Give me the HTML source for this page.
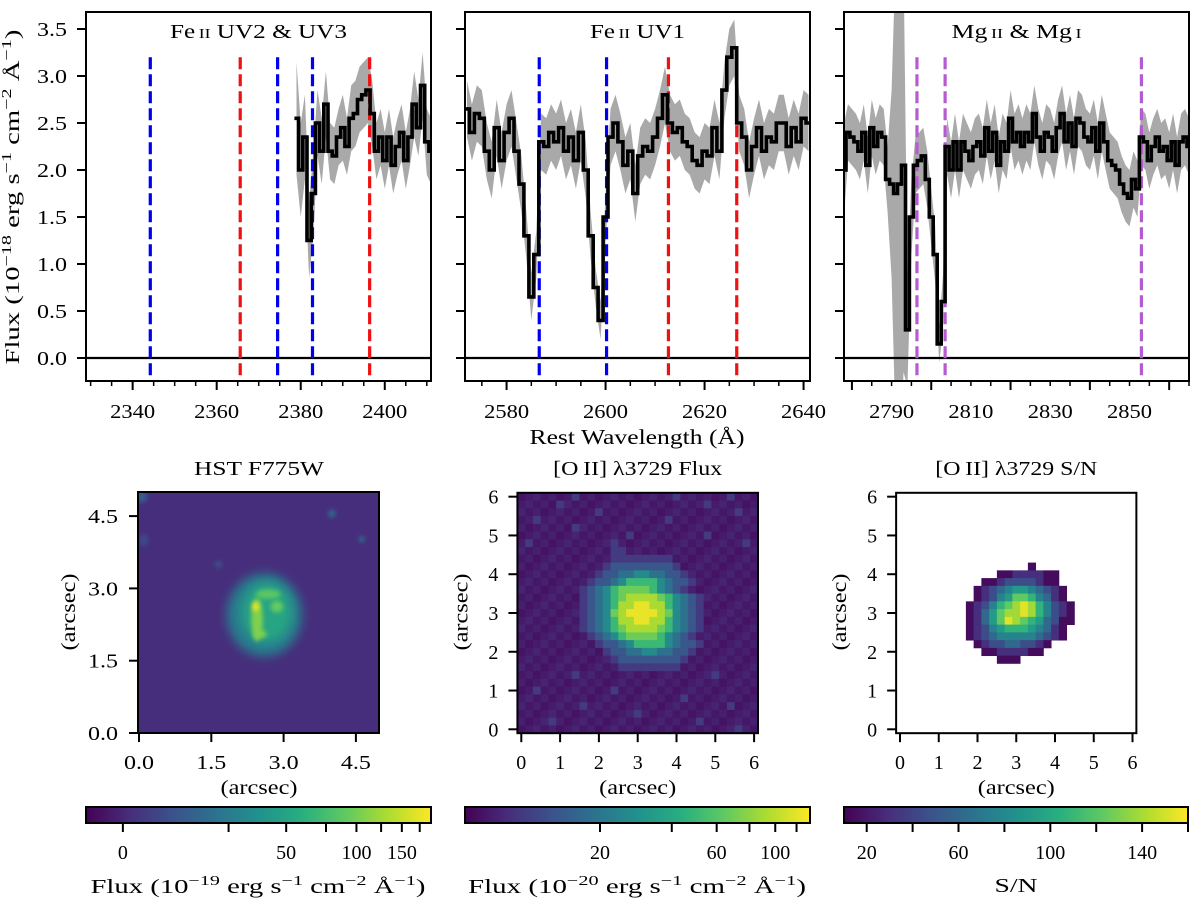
<!DOCTYPE html>
<html><head><meta charset="utf-8">
<style>
html,body{margin:0;padding:0;background:#fff;}
svg{display:block;font-family:"Liberation Serif",serif;}
</style></head>
<body>
<svg id="fig" width="1200" height="906" viewBox="0 0 1200 906" xmlns="http://www.w3.org/2000/svg">
<defs>
<filter id="blur2" x="-50%" y="-50%" width="200%" height="200%"><feGaussianBlur stdDeviation="2.2"/></filter>
<filter id="blur4" x="-50%" y="-50%" width="200%" height="200%"><feGaussianBlur stdDeviation="5"/></filter>
<linearGradient id="viridisGrad" x1="0" x2="1" y1="0" y2="0">
<stop offset="0" stop-color="#440154"/><stop offset="0.125" stop-color="#472d7b"/><stop offset="0.25" stop-color="#3b528b"/><stop offset="0.375" stop-color="#2c728e"/><stop offset="0.5" stop-color="#21918c"/><stop offset="0.625" stop-color="#28ae80"/><stop offset="0.75" stop-color="#5ec962"/><stop offset="0.875" stop-color="#addc30"/><stop offset="1" stop-color="#fde725"/>
</linearGradient>
</defs>
</svg>
<script>
// ---------- spectral data ----------
const spec1Start = 2379;
const spec1Flux = [2.55,2.0,2.35,1.25,1.75,2.5,2.2,2.7,2.2,2.15,2.35,2.45,2.25,2.55,2.6,2.75,2.8,2.85,2.6,2.2,2.35,2.1,2.35,2.05,2.25,2.4,2.1,2.35,2.7,2.45,2.9,2.3,2.2];
const spec1Err = [0.6,0.5,0.45,0.4,0.45,0.35,0.35,0.35,0.3,0.3,0.3,0.35,0.3,0.35,0.35,0.35,0.35,0.35,0.35,0.3,0.3,0.3,0.3,0.3,0.3,0.3,0.3,0.3,0.35,0.3,0.35,0.35,0.35];
const spec2Start = 2572;
const spec2Flux = [2.65,2.4,2.6,2.55,2.2,2.0,2.45,2.1,2.4,2.55,2.2,1.85,1.3,0.65,1.1,2.3,2.25,2.4,2.3,2.45,2.2,2.35,2.1,2.4,2.0,1.3,0.75,0.4,1.5,2.35,2.5,2.3,2.05,2.2,1.75,2.15,2.25,2.2,2.35,2.55,2.8,2.5,2.4,2.45,2.3,2.25,2.1,2.05,2.2,2.15,2.45,2.2,2.85,3.2,3.3,2.5,2.35,2.0,2.25,2.45,2.2,2.35,2.3,2.5,2.5,2.25,2.45,2.3,2.55,2.5];
const spec2Err = [0.3,0.3,0.3,0.3,0.3,0.3,0.3,0.3,0.3,0.3,0.3,0.3,0.25,0.25,0.25,0.3,0.3,0.3,0.3,0.3,0.3,0.3,0.3,0.3,0.3,0.25,0.2,0.2,0.25,0.3,0.3,0.3,0.3,0.3,0.3,0.3,0.3,0.3,0.3,0.3,0.3,0.3,0.3,0.3,0.3,0.3,0.3,0.3,0.3,0.3,0.3,0.3,0.3,0.3,0.3,0.3,0.3,0.3,0.3,0.3,0.3,0.3,0.3,0.3,0.3,0.3,0.3,0.3,0.3,0.3];
const spec3Start = 2778;
const spec3Flux = [2.0,2.4,2.35,2.3,2.2,2.4,2.05,2.45,2.25,2.4,2.35,1.9,1.85,1.75,1.85,2.05,0.3,1.5,2.05,2.1,2.15,1.9,1.5,1.1,0.15,0.6,2.25,2.0,2.3,2.0,2.3,2.2,2.1,2.25,2.3,2.15,2.45,2.2,2.4,2.05,2.3,2.2,2.55,2.3,2.4,2.25,2.4,2.3,2.6,2.35,2.2,2.4,2.35,2.2,2.45,2.6,2.3,2.5,2.25,2.55,2.5,2.35,2.3,2.45,2.2,2.5,2.3,2.1,2.05,2.0,1.85,1.75,1.7,1.9,1.8,2.35,2.3,2.1,2.25,2.35,2.2,2.25,2.1,2.3,2.05,2.3,2.35,2.25];
const spec3Err = [0.5,0.3,0.3,0.3,0.3,0.3,0.3,0.3,0.3,0.3,0.3,0.35,1.0,2.5,3.2,2.2,0.6,0.4,0.3,0.3,0.3,0.3,0.3,0.3,0.2,0.3,0.3,0.3,0.3,0.3,0.3,0.3,0.3,0.3,0.3,0.3,0.3,0.3,0.3,0.3,0.3,0.3,0.3,0.3,0.3,0.3,0.3,0.3,0.3,0.3,0.3,0.3,0.3,0.3,0.3,0.3,0.3,0.3,0.3,0.3,0.3,0.3,0.3,0.3,0.3,0.3,0.3,0.3,0.3,0.3,0.3,0.3,0.3,0.3,0.3,0.3,0.3,0.3,0.3,0.3,0.3,0.3,0.3,0.3,0.3,0.3,0.3,0.3];
const lines1 = [2344.2,2365.6,2374.5,2382.8,2396.4];
const lineColors1 = ["#0000ee","#ee1111","#0000ee","#0000ee","#ee1111"];
const lines2 = [2586.6,2600.2,2612.7,2626.5];
const lineColors2 = ["#0000ee","#0000ee","#ee1111","#ee1111"];
const lines3 = [2796.4,2803.5,2853.0];
const lineColors3 = ["#b55bd2","#b55bd2","#b55bd2"];
const xTicks1 = [2340,2360,2380,2400];
const xTicks2 = [2580,2600,2620,2640];
const xTicks3 = [2790,2810,2830,2850];
const yTicks = [0.0,0.5,1.0,1.5,2.0,2.5,3.0,3.5];
const yTickLabels = ["0.0","0.5","1.0","1.5","2.0","2.5","3.0","3.5"];

// ---------- image data ----------
const fluxMap = [
"0000000100000000000010000001000",
"0000010000000000000000001000000",
"0000000000100000000000000000100",
"0010000000000000000100000000000",
"0000000100000000000000000000000",
"0000000000000010000000001000000",
"0100000000001000000000000000010",
"0000000000001100000000000000000",
"0000000000001111111100000000000",
"0000000000012222222210000000000",
"0000000000122334433221000000000",
"0000000001223466664322100000000",
"0000000012346777764321000000000",
"0000000012346788887643210000000",
"0000000012346889988643210000000",
"0000000012347899998743210000000",
"0000000012346889988643210000000",
"0000000012346788887643210000000",
"0000000001234677776432100000000",
"0000000000122346666432210000000",
"0000000000012233443322100000000",
"0000000000001222222221000000000",
"0000000000000111111110000000000",
"0000000100000000000000000100000",
"0000000000000000000000000000000",
"0010000000001000000000000000000",
"0000000000000000000001000000000",
"0000000010000000000000000001000",
"0000000000000001000000000000000",
"0000100000000000000000010000000",
"0000000000000000000000000000100"];
const snMap = [
"...............................",
"...............................",
"...............................",
"...............................",
"...............................",
"...............................",
"...............................",
"...............................",
"...............................",
".................0.............",
".............00111100..........",
"...........0012222100..........",
"..........012345543210.........",
"..........012457764310.........",
".........01246789864210........",
".........01357889864210........",
".........01357987653200........",
".........0124566654310.........",
".........0123444443210.........",
"..........0122332210...........",
"...........00111100............",
".............000...............",
"...............................",
"...............................",
"...............................",
"...............................",
"...............................",
"...............................",
"...............................",
"...............................",
"..............................."];
// HST sources: x, y (arcsec), rx, ry (arcsec), colour level (0-1)
const hstX = [2.6,2.65,2.45,2.68,2.86,2.42,2.52,4.0,4.62,1.65,0.05,0.1];
const hstY = [2.45,2.5,2.35,2.88,2.62,2.62,2.05,4.55,4.02,3.5,4.9,4.0];
const hstRx = [0.78,0.52,0.12,0.26,0.13,0.07,0.13,0.08,0.06,0.07,0.12,0.1];
const hstRy = [0.86,0.62,0.45,0.1,0.12,0.1,0.08,0.08,0.06,0.07,0.12,0.12];
const hstLevel = [0.42,0.58,0.8,0.74,0.76,0.97,0.8,0.35,0.38,0.26,0.3,0.22];
const hstTicks = [0.0,1.5,3.0,4.5];
const hstTickLabels = ["0.0","1.5","3.0","4.5"];
const arcTicks = [0,1,2,3,4,5,6];
const cb1Ticks = [0,25,50,75,100,125,150,175];
const cb1Labels = ["0","","50","","100","","150",""];
const cb2Ticks = [20,40,60,80,100,120];
const cb2Labels = ["20","","60","","100",""];
const cb3Ticks = [20,40,60,80,100,120,140,160];
const cb3Labels = ["20","","60","","100","","140",""];

const NS = "http://www.w3.org/2000/svg";
const svg = document.getElementById('fig');
const TF = 20; // tick font size
function mk(tag, attrs, parent){
  const e = document.createElementNS(NS, tag);
  for (const k in attrs) e.setAttribute(k, attrs[k]);
  (parent||svg).appendChild(e);
  return e;
}
const VIR = ["#440154","#472d7b","#3b528b","#2c728e","#21918c","#28ae80","#5ec962","#addc30","#fde725"];
function hex2rgb(h){return [parseInt(h.substr(1,2),16),parseInt(h.substr(3,2),16),parseInt(h.substr(5,2),16)];}
function viridis(t){
  t=Math.max(0,Math.min(1,t)); const s=t*8; const i=Math.min(7,Math.floor(s)); const f=s-i;
  const a=hex2rgb(VIR[i]), b=hex2rgb(VIR[i+1]);
  return "rgb("+a.map((v,k)=>Math.round(v+(b[k]-v)*f)).join(",")+")";
}
function addText(str, x, y, size, anchor, parent, name, len){
  const t = mk('text',{x:x,y:y,'font-size':size,'text-anchor':anchor||'middle',fill:'#000'},parent);
  if (len) { t.setAttribute('textLength', len); t.setAttribute('lengthAdjust','spacingAndGlyphs'); }
  t.textContent = str;
  
  
  return t;
}
function fluxLabel(parent, x, y, exp, name, rotate, len){
  const t = mk('text',{x:x,y:y,'font-size':20,'text-anchor':'middle',fill:'#000',textLength:len,lengthAdjust:'spacingAndGlyphs'},parent);
  if (rotate) t.setAttribute('transform','rotate(-90 '+x+' '+y+')');
  
  
  const parts = [["Flux (10",0],[exp,1],[" erg s",0],["\u22121",1],[" cm",0],["\u22122",1],[" \u00c5",0],["\u22121",1],[")",0]];
  parts.forEach((p,i)=>{
    const s = mk('tspan',{},t);
    s.textContent = p[0];
    if (p[1]) { s.setAttribute('font-size','14'); s.setAttribute('dy','-8'); }
    else if (i>0) s.setAttribute('dy','8');
  });
  return t;
}

// ---------- spectral panels ----------
const Y0 = 358, YS = 94, TOP = 12, BOT = 381;
function yv(v){ return Y0 - YS*v; }
const panels = [
 {x0:86,x1:431,wmin:2328.9,wmax:2411,start:spec1Start,flux:spec1Flux,err:spec1Err,lines:lines1,cols:lineColors1,ticks:xTicks1,title:["Fe","II"," UV2 & UV3"],tlen:177,labels:true,name:'feii-uv2-uv3-panel'},
 {x0:465,x1:810,wmin:2571.6,wmax:2641.3,start:spec2Start,flux:spec2Flux,err:spec2Err,lines:lines2,cols:lineColors2,ticks:xTicks2,title:["Fe","II"," UV1"],tlen:95,labels:false,name:'feii-uv1-panel'},
 {x0:844,x1:1189,wmin:2778,wmax:2865,start:spec3Start,flux:spec3Flux,err:spec3Err,lines:lines3,cols:lineColors3,ticks:xTicks3,title:["Mg","II"," & Mg","I"],tlen:130,labels:false,name:'mgii-mgi-panel'}
];
panels.forEach((p,pi)=>{
  const g = mk('g',{});
  
  
  const xs = w => p.x0 + (w - p.wmin)/(p.wmax - p.wmin)*(p.x1 - p.x0);
  const cp = mk('clipPath',{id:'clipS'+pi},g);
  mk('rect',{x:p.x0,y:TOP,width:p.x1-p.x0,height:BOT-TOP},cp);
  const inner = mk('g',{'clip-path':'url(#clipS'+pi+')'},g);
  let up=[], dn=[];
  p.flux.forEach((f,i)=>{ const w=p.start+i; up.push(xs(w).toFixed(1)+","+yv(f+p.err[i]).toFixed(1)); dn.unshift(xs(w).toFixed(1)+","+yv(f-p.err[i]).toFixed(1)); });
  const band = mk('polygon',{points:up.concat(dn).join(' '),fill:'#a9a9a9',stroke:'none'},inner);
  
  
  const zl = mk('line',{x1:p.x0,x2:p.x1,y1:yv(0),y2:yv(0),stroke:'#000','stroke-width':2.2},inner);
  
  
  p.lines.forEach((w,i)=>{
    const l = mk('line',{x1:xs(w),x2:xs(w),y1:yv(3.2),y2:BOT,stroke:p.cols[i],'stroke-width':3.2,'stroke-dasharray':'12,5'},inner);
    
    
  });
  let d = "";
  p.flux.forEach((f,i)=>{ const w=p.start+i; const xa=xs(w-0.5), xb=xs(w+0.5), y=yv(f);
    d += (i===0? "M":"L")+xa.toFixed(1)+","+y.toFixed(1)+" L"+xb.toFixed(1)+","+y.toFixed(1)+" "; });
  const sp = mk('path',{d:d,fill:'none',stroke:'#000','stroke-width':3.6,'stroke-linejoin':'miter'},inner);
  
  
  const fr = mk('rect',{x:p.x0,y:TOP,width:p.x1-p.x0,height:BOT-TOP,fill:'none',stroke:'#000','stroke-width':2},g);
  
  
  yTicks.forEach((v,i)=>{
    const t = mk('line',{x1:p.x0-9,x2:p.x0,y1:yv(v),y2:yv(v),stroke:'#000','stroke-width':2},g);
    
    
    if (p.labels) addText(yTickLabels[i], p.x0-19, yv(v)+7, TF, 'end', g, 'y-tick-label', 30);
  });
  for (let w = Math.ceil(p.wmin/5)*5; w <= p.wmax; w += 5) {
    const major = (w % 20) === 0;
    const t = mk('line',{x1:xs(w),x2:xs(w),y1:BOT,y2:BOT+(major?9:5),stroke:'#000','stroke-width':major?2:1.5},g);
    
    
  }
  p.ticks.forEach(w=>{ addText(String(w), xs(w), 418, TF, 'middle', g, 'x-tick-label', 45); });
  const tt = mk('text',{x:(p.x0+p.x1)/2,y:38,'font-size':20,'text-anchor':'middle',textLength:p.tlen,lengthAdjust:'spacingAndGlyphs'},g);
  
  
  p.title.forEach((s,i)=>{ const ts = mk('tspan',{},tt); ts.textContent = (i%2===1? "\u2009"+s : s); if(i%2===1) ts.setAttribute('font-size','14'); });
});
fluxLabel(svg, 19, 197, "\u221218", 'y-axis-title', true, 335);
addText("Rest Wavelength (\u00c5)", 637, 444, 21, 'middle', svg, 'x-axis-title', 215);

// ---------- HST image ----------
const hx0=139, hy0=733, hs=48.2;
const hg = mk('g',{});


const hcp = mk('clipPath',{id:'clipH'},hg);
mk('rect',{x:138,y:492,width:241,height:241},hcp);
const hin = mk('g',{'clip-path':'url(#clipH)'},hg);
const hbg = mk('rect',{x:138,y:492,width:241,height:241,fill:viridis(0.13)},hin);


hstX.forEach((x,i)=>{
  const e = mk('ellipse',{cx:hx0+hs*x,cy:hy0-hs*hstY[i],rx:hs*hstRx[i],ry:hs*hstRy[i],fill:viridis(hstLevel[i]),filter:i<2?'url(#blur4)':'url(#blur2)'},hin);
  
  
});
const hfr = mk('rect',{x:138,y:492,width:241,height:241,fill:'none',stroke:'#000','stroke-width':2},hg);


hstTicks.forEach((v,i)=>{
  const a = mk('line',{x1:hx0+hs*v,x2:hx0+hs*v,y1:733,y2:742,stroke:'#000','stroke-width':2},hg);
  
  
  const b = mk('line',{x1:129,x2:138,y1:hy0-hs*v,y2:hy0-hs*v,stroke:'#000','stroke-width':2},hg);
  
  
  addText(hstTickLabels[i], hx0+hs*v, 769, TF, 'middle', hg, 'x-tick-label', 30);
  addText(hstTickLabels[i], 118, hy0-hs*v+7, TF, 'end', hg, 'y-tick-label', 30);
});
addText("HST F775W", 259, 475, 20, 'middle', hg, 'panel-title', 130);
addText("(arcsec)", 259, 794, 20, 'middle', hg, 'x-axis-title', 77);
addText("(arcsec)", 75, 612, 20, 'middle', hg, 'y-axis-title', 77).setAttribute('transform','rotate(-90 75 612)');

// ---------- heatmaps ----------
function heatmap(map, ox, sx, oy, sy, title, tlen, name, isSN){
  const g = mk('g',{});
  
  
  const x0 = ox - 0.1*sx, y0 = oy - 6.1*sy, W = 6.2*sx, H = 6.2*sy;
  if (!isSN) { const bg = mk('rect',{x:x0,y:y0,width:W,height:H,fill:viridis(0.07)},g);   }
  map.forEach((row,r)=>{
    const j = 30 - r;
    for (let i=0;i<31;i++){
      const ch = row[i] || (isSN ? '.' : '0');
      if (ch === '.') continue;
      const lv = parseInt(ch,10);
      const val = isSN ? 0.03 + lv*0.103 : (lv===0 ? (((i*7+j*13)%5)*0.012 + 0.05) : 0.07 + lv*0.1);
      const c = mk('rect',{x:(ox+sx*(0.2*i-0.1)).toFixed(2),y:(oy-sy*(0.2*j+0.1)).toFixed(2),width:(sx*0.2+0.4).toFixed(2),height:(sy*0.2+0.4).toFixed(2),fill:viridis(val)},g);
      
      
    }
  });
  const fr = mk('rect',{x:x0,y:y0,width:W,height:H,fill:'none',stroke:'#000','stroke-width':2},g);
  
  
  arcTicks.forEach(v=>{
    const a = mk('line',{x1:ox+sx*v,x2:ox+sx*v,y1:y0+H,y2:y0+H+9,stroke:'#000','stroke-width':2},g);
    
    
    const b = mk('line',{x1:x0-9,x2:x0,y1:oy-sy*v,y2:oy-sy*v,stroke:'#000','stroke-width':2},g);
    
    
    addText(String(v), ox+sx*v, 769, TF, 'middle', g, 'x-tick-label');
    addText(String(v), x0-19, oy-sy*v+7, TF, 'end', g, 'y-tick-label');
  });
  addText(title, x0+W/2, 475, 20, 'middle', g, 'panel-title', tlen);
  addText("(arcsec)", x0+W/2, 794, 20, 'middle', g, 'x-axis-title', 77);
  addText("(arcsec)", x0-50, 612, 20, 'middle', g, 'y-axis-title', 77).setAttribute('transform','rotate(-90 '+(x0-50)+' 612)');
}
heatmap(fluxMap, 521.3, 38.8, 729.3, 38.77, "[O\u2009II] \u03bb3729 Flux", 169, 'oii-flux-map', false);
heatmap(snMap, 900, 38.75, 729.3, 38.77, "[O\u2009II] \u03bb3729 S/N", 162, 'oii-sn-map', true);

// ---------- colorbars ----------
function norm1(v){ return 0.87*Math.log10(v+20) - 1.025; }
function norm2(v){ return 0.815*Math.log10(v+5) - 0.748; }
function norm3(v){ return (v-10.1)/(160-10.1); }
function colorbar(x0, x1, ticks, labels, nf, name){
  const g = mk('g',{});
  
  
  const r = mk('rect',{x:x0,y:807,width:x1-x0,height:16,fill:'url(#viridisGrad)',stroke:'#000','stroke-width':2},g);
  
  
  ticks.forEach((v,i)=>{
    const x = x0 + nf(v)*(x1-x0);
    const t = mk('line',{x1:x,x2:x,y1:823,y2:832,stroke:'#000','stroke-width':2},g);
    
    
    if (labels[i]) addText(labels[i], x, 859, TF, 'middle', g, 'colorbar-tick-label');
  });
  return g;
}
const cb1 = colorbar(86, 431, cb1Ticks, cb1Labels, norm1, 'hst-colorbar');
fluxLabel(cb1, 258, 893, "\u221219", 'colorbar-label', false, 335);
const cb2 = colorbar(465, 810, cb2Ticks, cb2Labels, norm2, 'oii-flux-colorbar');
fluxLabel(cb2, 637, 893, "\u221220", 'colorbar-label', false, 338);
const cb3 = colorbar(844, 1188, cb3Ticks, cb3Labels, norm3, 'sn-colorbar');
addText("S/N", 1016, 892, 20, 'middle', cb3, 'colorbar-label', 43);
</script>
</body></html>
